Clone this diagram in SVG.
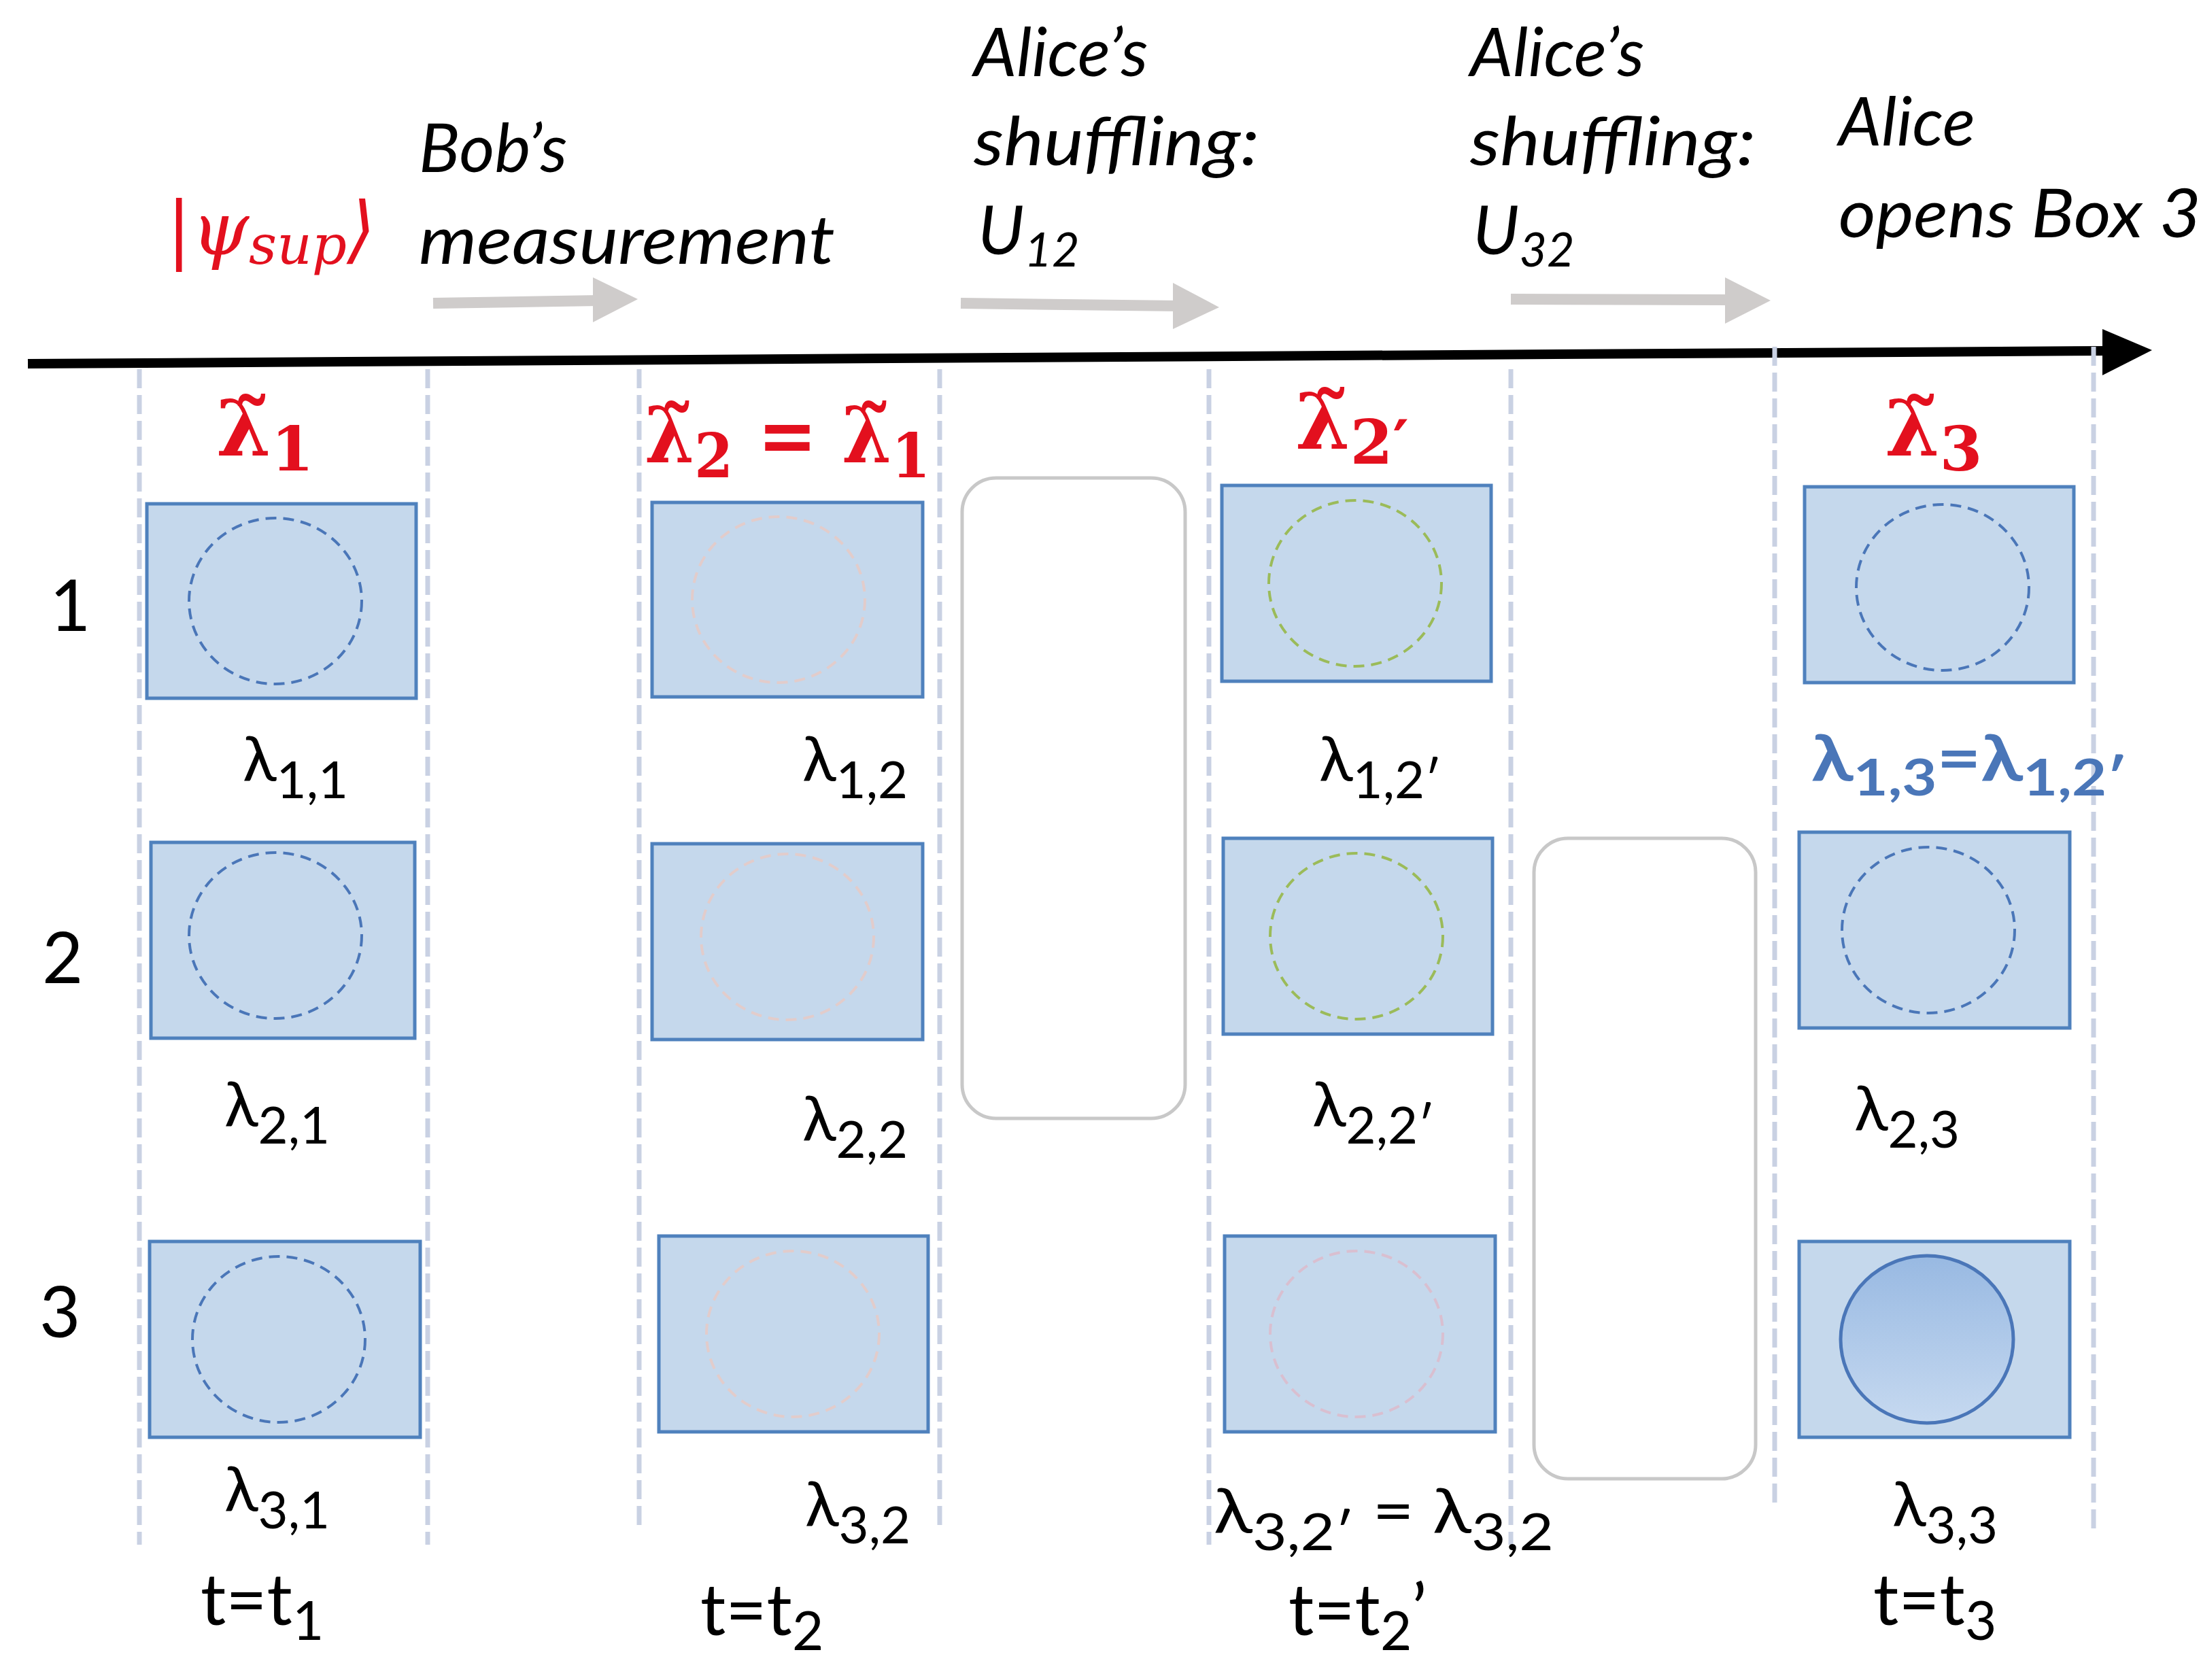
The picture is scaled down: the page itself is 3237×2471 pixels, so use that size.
<svg xmlns="http://www.w3.org/2000/svg" width="3237" height="2471" viewBox="0 0 3237 2471">
<defs>
<linearGradient id="g" x1="0" y1="0" x2="0" y2="1"><stop offset="0" stop-color="#98b9e2"/><stop offset="1" stop-color="#c6d9f0"/></linearGradient>
<style>
.box{fill:#c5d8ec;stroke:#4f81bd;stroke-width:5}
.vl{stroke:#c9d1e3;stroke-width:7;stroke-dasharray:28 10;fill:none}
.c{fill:none;stroke-width:4;stroke-dasharray:16 10}
.cb{stroke:#4a76b8}.cp{stroke:#e2cccb}.cg{stroke:#9bbb59}.cq{stroke:#d9bfd0}
.rr{fill:#fff;stroke:#c8c8c8;stroke-width:5}
.ga{stroke:#cfcccb;stroke-width:16;fill:none}
.gh{fill:#cfcccb}
text{font-family:Lato,"Open Sans","Liberation Sans",sans-serif;fill:#000}
.it{font-style:italic;font-size:100px}
.red{fill:#e3101e;font-weight:bold;font-size:115px;font-family:"DejaVu Serif","Liberation Serif",serif}
.lam{font-size:92px}
.num{font-size:104px}
.blue{fill:#4a76b8;font-weight:bold;font-size:94px}
</style>
</defs>
<g id="connectors">
<line x1="41" y1="535" x2="3100" y2="516" stroke="#000" stroke-width="14"/>
<polygon points="3092,484 3165,515 3092,552" fill="#000"/>
<line class="ga" x1="637" y1="446" x2="880" y2="442"/><polygon class="gh" points="872,408 938,440 872,474"/>
<line class="ga" x1="1413" y1="446" x2="1735" y2="450"/><polygon class="gh" points="1725,416 1793,452 1725,484"/>
<line class="ga" x1="2222" y1="440" x2="2545" y2="441"/><polygon class="gh" points="2537,408 2604,442 2537,476"/>
</g>
<g id="gridlines">
<line class="vl" x1="205" y1="543" x2="205" y2="2272"/>
<line class="vl" x1="629" y1="543" x2="629" y2="2272"/>
<line class="vl" x1="940" y1="543" x2="940" y2="2250"/>
<line class="vl" x1="1382" y1="543" x2="1382" y2="2250"/>
<line class="vl" x1="1778" y1="543" x2="1778" y2="2272"/>
<line class="vl" x1="2222" y1="543" x2="2222" y2="2272"/>
<line class="vl" x1="2610" y1="510" x2="2610" y2="2220"/>
<line class="vl" x1="3079" y1="510" x2="3079" y2="2250"/>
</g>
<g id="shuffle1"><rect class="rr" x="1415" y="703" width="328" height="942" rx="50"/></g>
<g id="shuffle2"><rect class="rr" x="2256" y="1233" width="326" height="942" rx="50"/></g>
<g id="col1">
<rect class="box" x="216" y="741" width="396" height="286"/><ellipse class="c cb" cx="405" cy="884" rx="127" ry="122"/>
<rect class="box" x="222" y="1239" width="388" height="288"/><ellipse class="c cb" cx="405" cy="1376" rx="127" ry="122"/>
<rect class="box" x="220" y="1826" width="398" height="288"/><ellipse class="c cb" cx="410" cy="1970" rx="127" ry="122"/>
</g>
<g id="col2">
<rect class="box" x="959" y="739" width="398" height="286"/><ellipse class="c cp" cx="1145" cy="882" rx="127" ry="122"/>
<rect class="box" x="959" y="1241" width="398" height="288"/><ellipse class="c cp" cx="1158" cy="1378" rx="127" ry="122"/>
<rect class="box" x="969" y="1818" width="396" height="288"/><ellipse class="c cp" cx="1166" cy="1962" rx="127" ry="122"/>
</g>
<g id="col3">
<rect class="box" x="1797" y="714" width="396" height="288"/><ellipse class="c cg" cx="1993" cy="858" rx="127" ry="122"/>
<rect class="box" x="1799" y="1233" width="396" height="288"/><ellipse class="c cg" cx="1995" cy="1377" rx="127" ry="122"/>
<rect class="box" x="1801" y="1818" width="398" height="288"/><ellipse class="c cq" cx="1995" cy="1962" rx="127" ry="122"/>
</g>
<g id="col4">
<rect class="box" x="2654" y="716" width="396" height="288"/><ellipse class="c cb" cx="2857" cy="864" rx="127" ry="122"/>
<rect class="box" x="2646" y="1224" width="398" height="288"/><ellipse class="c cb" cx="2836" cy="1368" rx="127" ry="122"/>
<rect class="box" x="2646" y="1826" width="398" height="288"/><ellipse cx="2834" cy="1970" rx="127" ry="123" fill="url(#g)" stroke="#4a76b8" stroke-width="5"/>
</g>
<g id="labels">
<text x="245" y="374" class="it" style="fill:#e3101e;font-family:'DejaVu Serif',serif;font-size:108px">|ψ<tspan font-size="80" dy="14">sup</tspan><tspan dy="-14">⟩</tspan></text>
<text x="616" y="253" class="it">Bob’s</text>
<text x="616" y="388" class="it" textLength="612" lengthAdjust="spacingAndGlyphs">measurement</text>
<text x="1432" y="112" class="it">Alice’s</text>
<text x="1432" y="243" class="it" textLength="420" lengthAdjust="spacingAndGlyphs">shuffling:</text>
<text x="1438" y="374" class="it">U<tspan font-size="70" dy="18">12</tspan></text>
<text x="2162" y="112" class="it">Alice’s</text>
<text x="2162" y="243" class="it" textLength="420" lengthAdjust="spacingAndGlyphs">shuffling:</text>
<text x="2166" y="374" class="it">U<tspan font-size="70" dy="18">32</tspan></text>
<text x="2704" y="214" class="it">Alice</text>
<text x="2704" y="349" class="it" textLength="533" lengthAdjust="spacingAndGlyphs">opens Box 3</text>
<text x="73" y="928" class="num">1</text>
<text x="62" y="1446" class="num">2</text>
<text x="58" y="1967" class="num">3</text>
<text x="318" y="670" class="red">λ̃<tspan dy="22" font-size="90">1</tspan></text>
<text x="948" y="680" class="red" textLength="420" lengthAdjust="spacingAndGlyphs">λ̃<tspan dy="22" font-size="90">2</tspan><tspan dy="-22"> = λ̃</tspan><tspan dy="22" font-size="90">1</tspan></text>
<text x="1905" y="660" class="red">λ̃<tspan dy="22" font-size="90">2′</tspan></text>
<text x="2772" y="670" class="red">λ̃<tspan dy="22" font-size="90">3</tspan></text>
<text x="357" y="1148" class="lam">λ<tspan dy="26" font-size="76">1,1</tspan></text>
<text x="1180" y="1148" class="lam">λ<tspan dy="26" font-size="76">1,2</tspan></text>
<text x="1940" y="1148" class="lam">λ<tspan dy="26" font-size="76">1,2′</tspan></text>
<text x="2664" y="1148" class="blue" textLength="464" lengthAdjust="spacingAndGlyphs">λ<tspan dy="22" font-size="74">1,3</tspan><tspan dy="-22">=λ</tspan><tspan dy="22" font-size="74">1,2′</tspan></text>
<text x="330" y="1656" class="lam">λ<tspan dy="26" font-size="76">2,1</tspan></text>
<text x="1180" y="1677" class="lam">λ<tspan dy="26" font-size="76">2,2</tspan></text>
<text x="1930" y="1656" class="lam">λ<tspan dy="26" font-size="76">2,2′</tspan></text>
<text x="2727" y="1662" class="lam">λ<tspan dy="26" font-size="76">2,3</tspan></text>
<text x="330" y="2222" class="lam">λ<tspan dy="26" font-size="76">3,1</tspan></text>
<text x="1184" y="2244" class="lam">λ<tspan dy="26" font-size="76">3,2</tspan></text>
<text x="1785" y="2254" class="lam" textLength="500" lengthAdjust="spacingAndGlyphs">λ<tspan dy="26" font-size="76">3,2′</tspan><tspan dy="-26"> = λ</tspan><tspan dy="26" font-size="76">3,2</tspan></text>
<text x="2783" y="2244" class="lam">λ<tspan dy="26" font-size="76">3,3</tspan></text>
<text x="295" y="2390" class="num">t=t<tspan dy="22" font-size="80">1</tspan></text>
<text x="1030" y="2405" class="num">t=t<tspan dy="22" font-size="80">2</tspan></text>
<text x="1895" y="2405" class="num">t=t<tspan dy="22" font-size="80">2</tspan><tspan dy="-22">’</tspan></text>
<text x="2755" y="2390" class="num">t=t<tspan dy="22" font-size="80">3</tspan></text>
</g>
</svg>
